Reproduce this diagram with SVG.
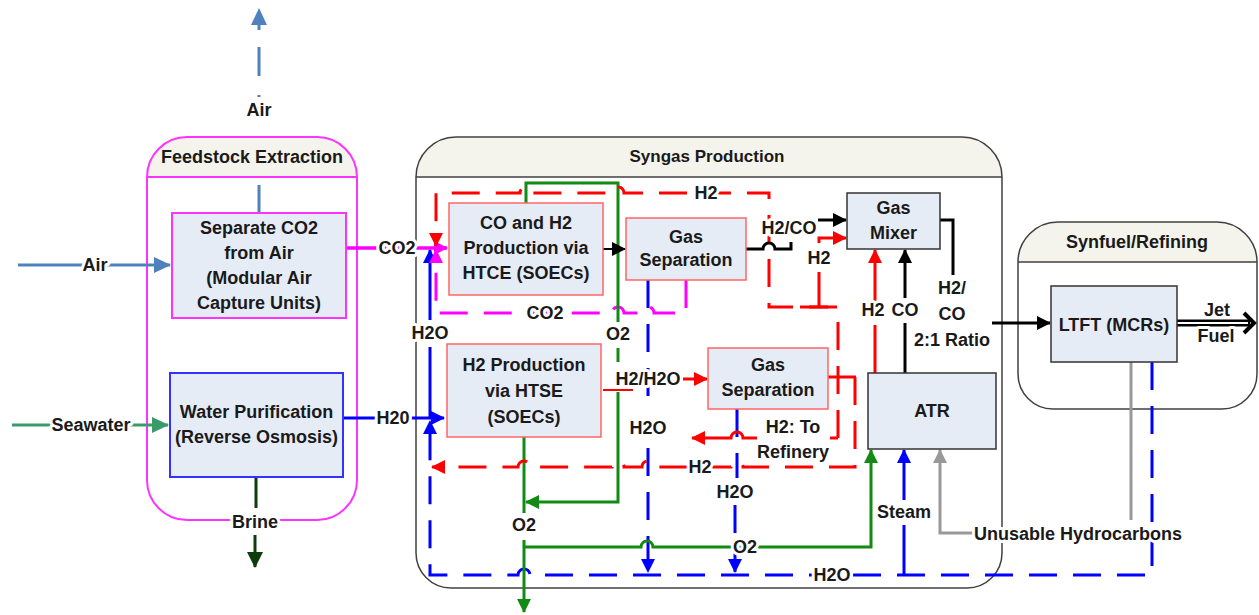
<svg xmlns="http://www.w3.org/2000/svg" width="1259" height="615" viewBox="0 0 1259 615">
<defs>
<style>
text{font-family:"Liberation Sans",Arial,sans-serif;font-weight:bold;font-size:18px;fill:#1a1a1a;text-anchor:middle}
.lbl{stroke:#fff;stroke-width:6;stroke-linejoin:round;paint-order:stroke}
.box{fill:#e6ecf6}
.ln{fill:none;stroke-width:3}
.d{stroke-dasharray:28 16}
.blue{stroke:#0000ff}
.red{stroke:#ff0000}
.mag{stroke:#ff00ff}
.grn{stroke:#138a13}
.blk{stroke:#000}
.gry{stroke:#999}
</style>
<marker id="mAir" markerUnits="userSpaceOnUse" markerWidth="17" markerHeight="16" viewBox="0 0 17 16" refX="16" refY="8" orient="auto"><path d="M0,0L17,8L0,16z" fill="#4f81bd"/></marker>
<marker id="mSea" markerUnits="userSpaceOnUse" markerWidth="17" markerHeight="16" viewBox="0 0 17 16" refX="16" refY="8" orient="auto"><path d="M0,0L17,8L0,16z" fill="#3a9a6a"/></marker>
<marker id="mBrine" markerUnits="userSpaceOnUse" markerWidth="16" markerHeight="16" viewBox="0 0 16 16" refX="15" refY="8" orient="auto"><path d="M0,0L16,8L0,16z" fill="#0d3d0d"/></marker>
<marker id="mB" markerUnits="userSpaceOnUse" markerWidth="14" markerHeight="14" viewBox="0 0 14 14" refX="13" refY="7" orient="auto"><path d="M0,0L14,7L0,14z" fill="#0000ff"/></marker>
<marker id="mR" markerUnits="userSpaceOnUse" markerWidth="14" markerHeight="14" viewBox="0 0 14 14" refX="13" refY="7" orient="auto"><path d="M0,0L14,7L0,14z" fill="#ff0000"/></marker>
<marker id="mM" markerUnits="userSpaceOnUse" markerWidth="14" markerHeight="14" viewBox="0 0 14 14" refX="13" refY="7" orient="auto"><path d="M0,0L14,7L0,14z" fill="#ff00ff"/></marker>
<marker id="mG" markerUnits="userSpaceOnUse" markerWidth="14" markerHeight="14" viewBox="0 0 14 14" refX="13" refY="7" orient="auto"><path d="M0,0L14,7L0,14z" fill="#138a13"/></marker>
<marker id="mK" markerUnits="userSpaceOnUse" markerWidth="14" markerHeight="14" viewBox="0 0 14 14" refX="13" refY="7" orient="auto"><path d="M0,0L14,7L0,14z" fill="#000"/></marker>
<marker id="mY" markerUnits="userSpaceOnUse" markerWidth="14" markerHeight="14" viewBox="0 0 14 14" refX="13" refY="7" orient="auto"><path d="M0,0L14,7L0,14z" fill="#999"/></marker>
</defs>
<rect width="1259" height="615" fill="#fff"/>

<!-- Containers -->
<g id="feedstock-extraction">
<path d="M187,137 H317 A40,40 0 0 1 357,177 V480 A40,40 0 0 1 317,520 H187 A40,40 0 0 1 147,480 V177 A40,40 0 0 1 187,137 Z" fill="#fff"/>
<path d="M147,177 A40,40 0 0 1 187,137 H317 A40,40 0 0 1 357,177 Z" fill="#f4f4ec"/>
<path d="M187,137 H317 A40,40 0 0 1 357,177 V480 A40,40 0 0 1 317,520 H187 A40,40 0 0 1 147,480 V177 A40,40 0 0 1 187,137 Z M147,177 H357" fill="none" stroke="#ff33ff" stroke-width="2"/>
<text x="252" y="163">Feedstock Extraction</text>
</g>
<g id="syngas-production">
<path d="M456,137 H962 A40,40 0 0 1 1002,177 V553 A35,35 0 0 1 967,588 H451 A35,35 0 0 1 416,553 V177 A40,40 0 0 1 456,137 Z" fill="#fff"/>
<path d="M416,177 A40,40 0 0 1 456,137 H962 A40,40 0 0 1 1002,177 Z" fill="#f4f4ec"/>
<path d="M456,137 H962 A40,40 0 0 1 1002,177 V553 A35,35 0 0 1 967,588 H451 A35,35 0 0 1 416,553 V177 A40,40 0 0 1 456,137 Z M416,177 H1002" fill="none" stroke="#404040" stroke-width="1.5"/>
<text x="707" y="162" style="font-size:17px">Syngas Production</text>
</g>
<g id="synfuel-refining">
<path d="M1058,222 H1217 A40,40 0 0 1 1257,262 V374 A35,35 0 0 1 1222,409 H1053 A35,35 0 0 1 1018,374 V262 A40,40 0 0 1 1058,222 Z" fill="#fff"/>
<path d="M1018,262 A40,40 0 0 1 1058,222 H1217 A40,40 0 0 1 1257,262 Z" fill="#f4f4ec"/>
<path d="M1058,222 H1217 A40,40 0 0 1 1257,262 V374 A35,35 0 0 1 1222,409 H1053 A35,35 0 0 1 1018,374 V262 A40,40 0 0 1 1058,222 Z M1018,262 H1257" fill="none" stroke="#404040" stroke-width="1.5"/>
<text x="1137" y="248">Synfuel/Refining</text>
</g>

<!-- Connectors -->
<g id="connectors">
<!-- air -->
<path class="ln" stroke="#4f81bd" d="M18,265 H170" marker-end="url(#mAir)"/>
<path class="ln" stroke="#4f81bd" d="M259,213 V185 M259,95 V97 M259,76 V47 M259,30 V24"/>
<polygon points="259,8 267,25 251,25" fill="#4f81bd"/>
<!-- seawater / brine -->
<path class="ln" stroke="#3a9a6a" d="M12,425 H168" marker-end="url(#mSea)"/>
<path class="ln" stroke="#0d3d0d" d="M256,477 V508"/>
<path class="ln" stroke="#0d3d0d" d="M255,535 V567" marker-end="url(#mBrine)"/>
<!-- CO2 feed -->
<path class="ln mag" style="stroke-width:3.5" d="M346,248 H447" marker-end="url(#mM)"/>
<!-- H20 feed -->
<path class="ln blue" d="M343,418 H444" marker-end="url(#mB)"/>
<!-- H2O left solid -->
<path class="ln blue" d="M430,418 V347"/>
<path class="ln blue" d="M430,320 V250" marker-end="url(#mB)"/>
<!-- H2O return bottom loop -->
<path class="ln blue d" d="M1152,362 V575 H530 A6,6 0 0 0 518,575 H430 V421" marker-end="url(#mB)"/>
<!-- blue from gas separation 1 -->
<path class="ln blue d" d="M648,280 V405"/>
<path class="ln blue d" d="M648,448 V572" marker-end="url(#mB)"/>
<!-- blue from gas separation 2 -->
<path class="ln blue d" d="M737,409 V478"/>
<path class="ln blue d" d="M735,505 V572" marker-end="url(#mB)"/>
<!-- steam -->
<path class="ln blue" d="M904,575 V525"/>
<path class="ln blue" d="M904,500 V450" marker-end="url(#mB)"/>
<!-- CO2 recycle magenta -->
<path class="ln mag d" d="M686,280 V313 H654 A6,6 0 0 0 642,313 H624 A6,6 0 0 0 612,313 H436 V250" marker-end="url(#mM)"/>
<!-- green O2 lines -->
<path class="ln grn" d="M526,203 V183 H618 V322"/>
<path class="ln grn" d="M618,348 V362"/>
<path class="ln grn" d="M618,392 V502 H526" marker-end="url(#mG)"/>
<path class="ln grn" d="M524,437 V513"/>
<path class="ln grn" d="M524,540 V612" marker-end="url(#mG)"/>
<path class="ln grn" d="M524,547 H641 A6,6 0 0 1 653,547 H871 V450" marker-end="url(#mG)"/>
<!-- red H2 lines -->
<path class="ln red d" d="M838,438 V307 H769 V193 H624 A6,6 0 0 0 612,193 H532 A6,6 0 0 0 520,193 H436 V246" marker-end="url(#mR)"/>
<path class="ln red" d="M838,438 H830"/>
<path class="ln red" d="M757,438 H743 A6,6 0 0 0 731,438 H692" marker-end="url(#mR)"/>
<path class="ln red" d="M800,307 H828 M819,307 V272"/>
<path class="ln red" d="M819,243 V238 H846" marker-end="url(#mR)"/>
<path class="ln red" d="M828,377 H856"/>
<path class="ln red d" d="M855,377 V467 H743 A6,6 0 0 0 731,467 H654 A6,6 0 0 0 642,467 H624 A6,6 0 0 0 612,467 H530 A6,6 0 0 0 518,467 H432" marker-end="url(#mR)"/>
<path class="ln red" style="stroke-width:2" d="M603,390 H633"/>
<path class="ln red" d="M683,379 H707" marker-end="url(#mR)"/>
<path class="ln red" d="M875,373 V325"/>
<path class="ln red" d="M875,302 V250" marker-end="url(#mR)"/>
<!-- black syngas lines -->
<path class="ln blk" style="stroke-width:2" d="M603,249 H625" marker-end="url(#mK)"/>
<path class="ln blk" d="M746,249 H763 A6,6 0 0 1 775,249 H791 V242"/>
<path class="ln blk" d="M818,220 H846" marker-end="url(#mK)"/>
<path class="ln blk" d="M905,373 V323"/>
<path class="ln blk" d="M905,298 V250" marker-end="url(#mK)"/>
<path class="ln blk" d="M940,220 H953 V275"/>
<path class="ln blk" d="M992,323 H1050" marker-end="url(#mK)"/>
<!-- grey unusable hydrocarbons -->
<path class="ln gry" d="M1131,362 V520"/>
<path class="ln gry" d="M973,533 H940 V450" marker-end="url(#mY)"/>
<!-- jet fuel -->
<path d="M1177,323 H1250" stroke="#000" stroke-width="7" fill="none"/>
<path d="M1177,323 H1248" stroke="#fff" stroke-width="2" fill="none"/>
<polyline points="1244,313 1254,323 1244,333" fill="none" stroke="#000" stroke-width="4"/>
</g>

<!-- Nodes -->
<g id="separate-co2">
<rect class="box" x="172" y="213" width="174" height="105" stroke="#ff33ff" stroke-width="2"/>
<text x="259" y="234">Separate CO2</text>
<text x="259" y="259">from Air</text>
<text x="259" y="284">(Modular Air</text>
<text x="259" y="309">Capture Units)</text>
</g>
<g id="water-purification">
<rect class="box" x="170" y="373" width="173" height="104" stroke="#3333ff" stroke-width="2"/>
<text x="256.5" y="418">Water Purification</text>
<text x="256.5" y="443">(Reverse Osmosis)</text>
</g>
<g id="htce">
<rect class="box" x="449" y="203" width="154" height="92" stroke="#ff6666" stroke-width="1.5"/>
<text x="526" y="229">CO and H2</text>
<text x="526" y="254">Production via</text>
<text x="526" y="279">HTCE (SOECs)</text>
</g>
<g id="gas-separation-1">
<rect class="box" x="626" y="218" width="120" height="62" stroke="#ff6666" stroke-width="1.5"/>
<text x="686" y="243">Gas</text>
<text x="686" y="266">Separation</text>
</g>
<g id="gas-mixer">
<rect class="box" x="847" y="193" width="93" height="56" stroke="#333" stroke-width="1.5"/>
<text x="893.5" y="214">Gas</text>
<text x="893.5" y="239">Mixer</text>
</g>
<g id="htse">
<rect class="box" x="447" y="344" width="154" height="93" stroke="#ff6666" stroke-width="1.5"/>
<text x="524" y="371">H2 Production</text>
<text x="524" y="397">via HTSE</text>
<text x="524" y="423">(SOECs)</text>
</g>
<g id="gas-separation-2">
<rect class="box" x="708" y="348" width="120" height="61" stroke="#ff6666" stroke-width="1.5"/>
<text x="768" y="371">Gas</text>
<text x="768" y="396">Separation</text>
</g>
<g id="atr">
<rect class="box" x="868" y="373" width="128" height="76" stroke="#333" stroke-width="1.5"/>
<text x="932" y="417">ATR</text>
</g>
<g id="ltft">
<rect class="box" x="1051" y="286" width="126" height="76" stroke="#333" stroke-width="1.5"/>
<text x="1114" y="331">LTFT (MCRs)</text>
</g>

<!-- Labels -->
<g id="labels">
<text class="lbl" x="95" y="271">Air</text>
<text class="lbl" x="259" y="116">Air</text>
<text class="lbl" x="91" y="431">Seawater</text>
<text class="lbl" x="255" y="528">Brine</text>
<text class="lbl" x="397" y="254">CO2</text>
<text class="lbl" x="393" y="424">H20</text>
<text class="lbl" x="430" y="339">H2O</text>
<text class="lbl" x="706" y="199">H2</text>
<text class="lbl" x="545" y="319">CO2</text>
<text class="lbl" x="618" y="340">O2</text>
<text class="lbl" x="789" y="234">H2/CO</text>
<text class="lbl" x="819" y="264">H2</text>
<text class="lbl" x="648" y="385">H2/H2O</text>
<text class="lbl" x="648" y="434">H2O</text>
<text class="lbl" x="793" y="433">H2: To</text>
<text class="lbl" x="793" y="458">Refinery</text>
<text class="lbl" x="700" y="473">H2</text>
<text class="lbl" x="735" y="498">H2O</text>
<text class="lbl" x="524" y="531">O2</text>
<text class="lbl" x="745" y="553">O2</text>
<text class="lbl" x="832" y="581">H2O</text>
<text class="lbl" x="904" y="518">Steam</text>
<text class="lbl" x="1078" y="540">Unusable Hydrocarbons</text>
<text class="lbl" x="873" y="316">H2</text>
<text class="lbl" x="905" y="316">CO</text>
<text class="lbl" x="952" y="294">H2/</text>
<text class="lbl" x="952" y="320">CO</text>
<text class="lbl" x="952" y="346">2:1 Ratio</text>
<text class="lbl" x="1217" y="316">Jet</text>
<text class="lbl" x="1216" y="342">Fuel</text>
</g>
</svg>
